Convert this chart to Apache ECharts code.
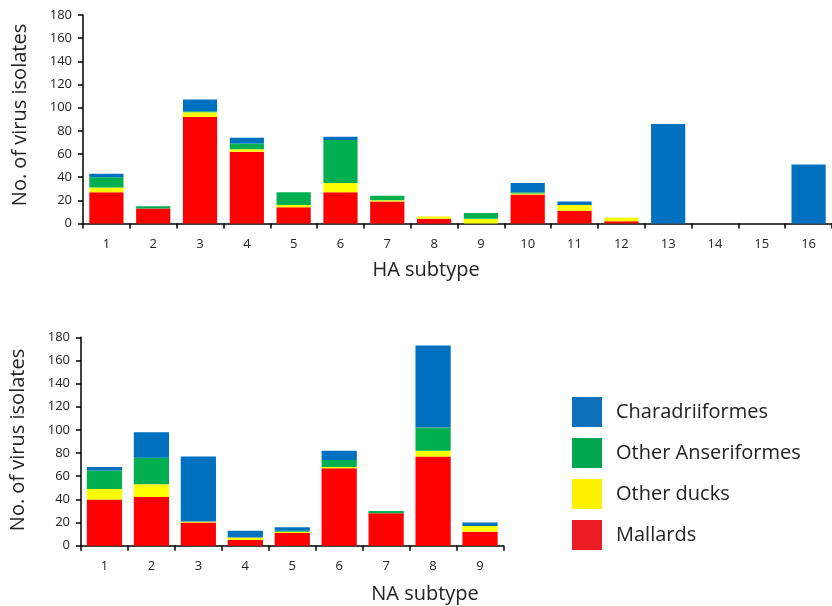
<!DOCTYPE html>
<html>
<head>
<meta charset="utf-8">
<script src="https://cdn.jsdelivr.net/npm/echarts@6/dist/echarts.min.js"></script>
<style>
html,body{margin:0;padding:0;background:#fff;}
#chart{width:832px;height:606px;}
</style>
</head>
<body>
<div id="chart"></div>
<script>
// ---- data ----
var haCategories = ['1','2','3','4','5','6','7','8','9','10','11','12','13','14','15','16'];
var haMallards        = [27, 13, 92, 62, 14, 27, 19, 4, 0, 25, 11, 2, 0, 0, 0, 0];
var haOtherDucks      = [4,  0,  4,  2,  2,  8,  1,  2, 4, 1,  5,  3, 0, 0, 0, 0];
var haOtherAnser      = [9,  2,  1,  5,  11, 37, 4,  0, 5, 1,  0,  0, 0, 0, 0, 0];
var haCharadrii       = [3,  0,  10, 5,  0,  3,  0,  0, 0, 8,  3,  0, 86, 0, 0, 51];

var naCategories = ['1','2','3','4','5','6','7','8','9'];
var naMallards        = [40, 42, 20, 5, 11, 67, 28, 77, 12];
var naOtherDucks      = [9,  11, 1,  2, 1,  1,  0,  5,  5];
var naOtherAnser      = [16, 23, 0,  0, 1,  6,  2,  20, 0];
var naCharadrii       = [3,  22, 56, 6, 3,  8,  0,  71, 3];

var seriesNames = ['Mallards','Other ducks','Other Anseriformes','Charadriiformes'];
var barColors   = ['#FF0000','#FFFF00','#00B050','#0070C0'];
var legendColors= ['#ED1C24','#FFF200','#00A650','#0F70BC'];
var yTicks = {min:0, max:180, interval:20};

var font = '"Open Sans", sans-serif';
var chart = echarts.init(document.getElementById('chart'));

function xAxisCfg(cats, gi){
  return {
    type:'category', data:cats, gridIndex:gi,
    axisLine:{show:true, lineStyle:{color:'#000', width:1.5}},
    axisTick:{show:true, length:5, inside:false, alignWithLabel:false, interval:0, lineStyle:{color:'#000', width:1.5}},
    axisLabel:{interval:0, margin:14, fontSize:13, color:'#222', fontFamily:font},
    splitLine:{show:false}
  };
}
function yAxisCfg(gi){
  return {
    type:'value', gridIndex:gi, min:yTicks.min, max:yTicks.max, interval:yTicks.interval,
    axisLine:{show:true, lineStyle:{color:'#000', width:1.5}},
    axisTick:{show:true, length:5, lineStyle:{color:'#000', width:1.5}},
    axisLabel:{margin:11, fontSize:13, color:'#222', fontFamily:font},
    splitLine:{show:false}
  };
}
var haData = [haMallards, haOtherDucks, haOtherAnser, haCharadrii];
var naData = [naMallards, naOtherDucks, naOtherAnser, naCharadrii];
var series = [];
for (var i=0;i<4;i++){
  series.push({name:seriesNames[i], type:'bar', stack:'ha', xAxisIndex:0, yAxisIndex:0,
    data:haData[i], barCategoryGap:'27%', itemStyle:{color:barColors[i]}, silent:true});
}
for (var j=0;j<4;j++){
  series.push({name:seriesNames[j], type:'bar', stack:'na', xAxisIndex:1, yAxisIndex:1,
    data:naData[j], barCategoryGap:'25%', itemStyle:{color:barColors[j]}, silent:true});
}

var option = {
  animation:false,
  backgroundColor:'#fff',
  grid:[
    {left:83, top:15, width:754, height:208.5},
    {left:81, top:337.3, width:422.5, height:208.4}
  ],
  xAxis:[xAxisCfg(haCategories,0), xAxisCfg(naCategories,1)],
  yAxis:[yAxisCfg(0), yAxisCfg(1)],
  legend:{
    orient:'vertical', left:567, top:392, itemWidth:30, itemHeight:30, itemGap:11,
    icon:'rect', selectedMode:false,
    textStyle:{fontSize:20, color:'#222', fontFamily:font, padding:[0,0,0,9]},
    data:[
      {name:'Charadriiformes', itemStyle:{color:legendColors[3]}},
      {name:'Other Anseriformes', itemStyle:{color:legendColors[2]}},
      {name:'Other ducks', itemStyle:{color:legendColors[1]}},
      {name:'Mallards', itemStyle:{color:legendColors[0]}}
    ]
  },
  graphic:[
    {type:'text', x:20, y:115, rotation:Math.PI/2, style:{text:'No. of virus isolates', x:0, y:0, textAlign:'center', textVerticalAlign:'middle', font:'20px '+font, fill:'#222'}},
    {type:'text', x:426, y:270, style:{text:'HA subtype', x:0, y:0, textAlign:'center', textVerticalAlign:'middle', font:'20px '+font, fill:'#222'}},
    {type:'text', x:18, y:440, rotation:Math.PI/2, style:{text:'No. of virus isolates', x:0, y:0, textAlign:'center', textVerticalAlign:'middle', font:'20px '+font, fill:'#222'}},
    {type:'text', x:425, y:594, style:{text:'NA subtype', x:0, y:0, textAlign:'center', textVerticalAlign:'middle', font:'20px '+font, fill:'#222'}}
  ],
  series:series
};
chart.setOption(option);
</script>
</body>
</html>
